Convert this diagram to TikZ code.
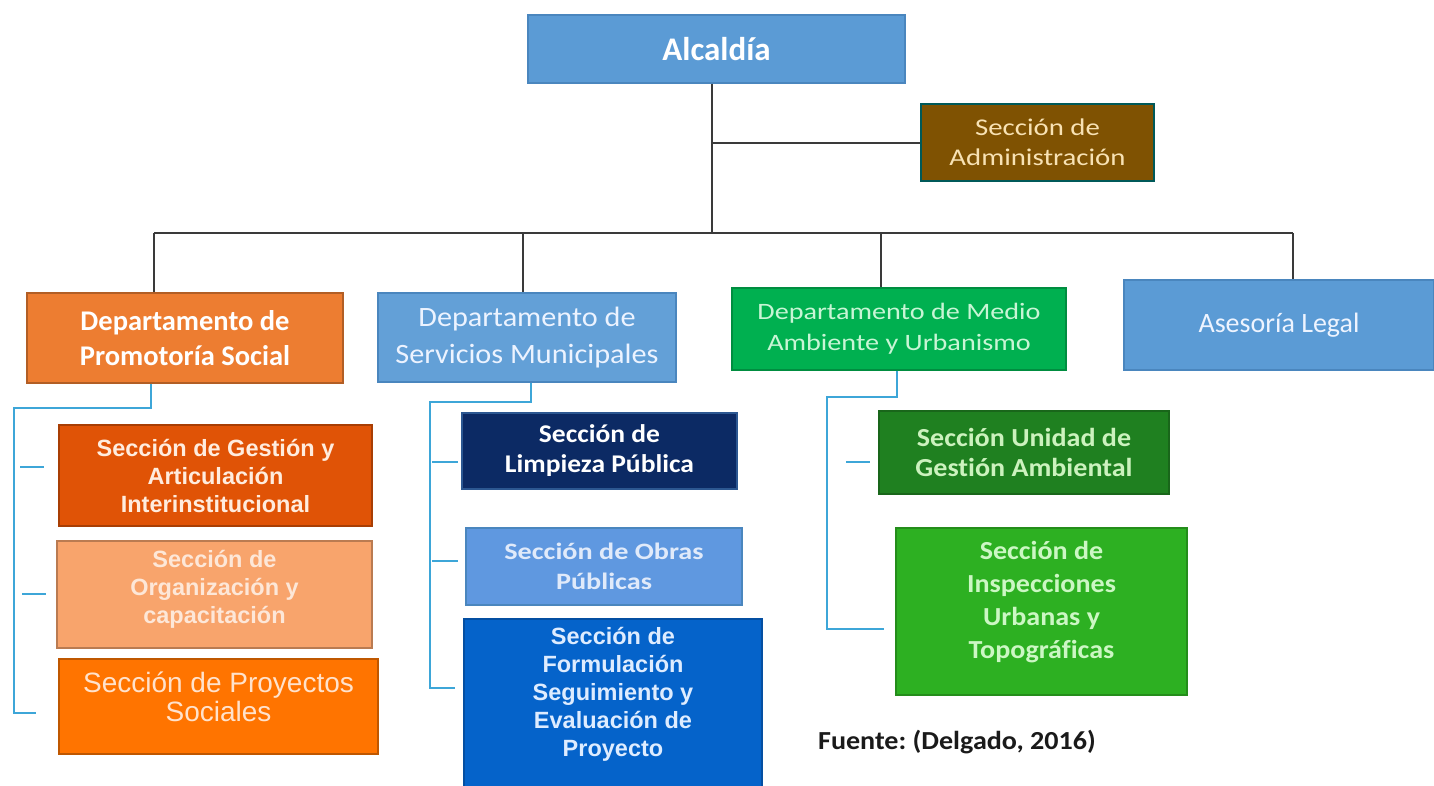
\documentclass[tikz,border=0pt]{standalone}
\usepackage{fontspec}
\setmainfont{Carlito}[Ligatures=NoCommon]
\newfontfamily\calN{Carlito}[Ligatures=NoCommon]
\newfontfamily\calS{Carlito}[FakeStretch=1.08,Ligatures=NoCommon]
\newfontfamily\calW{Carlito}[FakeStretch=1.2,Ligatures=NoCommon]
\newfontfamily\arl{Liberation Sans}
\usetikzlibrary{calc}
\frenchspacing
\definecolor{wirec}{HTML}{3A3A3A}
\definecolor{subc}{HTML}{3DA6D8}
\definecolor{blueA}{HTML}{5B9BD5}
\definecolor{blueAb}{HTML}{4A86BE}
\definecolor{brownA}{HTML}{7F5202}
\definecolor{orangeA}{HTML}{ED7D31}
\definecolor{greenA}{HTML}{00B050}
\definecolor{orangeB}{HTML}{E05306}
\definecolor{orangeC}{HTML}{F8A46C}
\definecolor{orangeD}{HTML}{FF7400}
\definecolor{navyA}{HTML}{0C2A64}
\definecolor{blueB}{HTML}{5F98E0}
\definecolor{blueC}{HTML}{0563CA}
\definecolor{greenB}{HTML}{1F8020}
\definecolor{greenC}{HTML}{2DB022}
\tikzset{
  box/.style={rectangle, draw, line width=1.2pt, inner sep=0pt, align=center},
  wire/.style={draw=wirec, line width=2pt},
  subw/.style={draw=subc, line width=1.8pt},
  lbl/.style={align=center}
}
\begin{document}
\begin{tikzpicture}[x=1pt,y=-1pt]
\useasboundingbox (0,0) rectangle (1434,785);
\fill[white] (0,0) rectangle (1434,785);

% top level
\node[box, fill=blueA, draw=blueAb, minimum width=377, minimum height=68,
  text=white, font=\calN\bfseries\fontsize{33}{38}\selectfont] (alc) at (716.5,49) {Alcaldía};
\node[box, fill=brownA, draw=teal!70!black, minimum width=233, minimum height=77,
  text={rgb,255:red,248;green,226;blue,180}, font=\calW\fontsize{24}{30}\selectfont] (adm) at (1037.5,142.5) {Sección de\\Administración};

% departments
\node[box, fill=orangeA, draw=orangeA!75!black, minimum width=316, minimum height=90,
  text=white, font=\calN\bfseries\fontsize{28.5}{35}\selectfont] (d1) at (185,338) {Departamento de\\Promotoría Social};
\node[box, fill=blueA!95!white, draw=blueAb, minimum width=298, minimum height=89,
  text={rgb,255:red,236;green,243;blue,255}, font=\calS\fontsize{28}{37}\selectfont] (d2) at (527,337.5) {Departamento de\\Servicios Municipales};
\node[box, fill=greenA, draw=greenA!80!black, minimum width=334, minimum height=82,
  text={rgb,255:red,200;green,245;blue,213}, font=\calW\fontsize{23.5}{31}\selectfont] (d3) at (899,329) {Departamento de Medio\\Ambiente y Urbanismo};
\node[box, fill=blueA, draw=blueAb, minimum width=310, minimum height=90,
  text={rgb,255:red,238;green,244;blue,255}, font=\calN\fontsize{28}{34}\selectfont] (d4) at (1279,325) {Asesoría Legal};

% sections left
\node[box, fill=orangeB, draw=orangeB!75!black, minimum width=313, minimum height=101,
  text={rgb,255:red,255;green,236;blue,222}, font=\arl\bfseries\fontsize{23.5}{28}\selectfont] (s1) at (215.5,475.5) {Sección de Gestión y\\Articulación\\Interinstitucional};
\node[box, fill=orangeC, draw=orangeC!75!black, minimum width=315, minimum height=107,
  label={[lbl, yshift=5.5pt, text={rgb,255:red,253;green,231;blue,216}, font=\arl\bfseries\fontsize{23.5}{28}\selectfont]center:Sección de\\Organización y\\capacitación}] (s2) at (214.5,594.5) {};
\node[box, fill=orangeD, draw=orangeD!75!black, minimum width=319, minimum height=95,
  label={[lbl, yshift=9.5pt, text={rgb,255:red,255;green,226;blue,204}, font=\arl\fontsize{28}{29.5}\selectfont]center:Sección de Proyectos\\Sociales}] (s3) at (218.5,706.5) {};

% sections middle
\node[box, fill=navyA, draw=navyA!60!blueA, minimum width=275, minimum height=76,
  text=white, font=\calS\bfseries\fontsize{25.5}{30}\selectfont] (m1) at (599.5,451) {Sección de\\Limpieza Pública};
\node[box, fill=blueB, draw=blueAb, minimum width=276, minimum height=77,
  text={rgb,255:red,224;green,234;blue,250}, font=\calW\bfseries\fontsize{23.5}{30}\selectfont] (m2) at (604,566.5) {Sección de Obras\\Públicas};
\node[box, fill=blueC, draw=blueC!80!black, minimum width=298, minimum height=171,
  label={[lbl, yshift=10pt, text={rgb,255:red,222;green,236;blue,255}, font=\arl\bfseries\fontsize{23.5}{28}\selectfont]center:Sección de\\Formulación\\Seguimiento y\\Evaluación de\\Proyecto}] (m3) at (613,704.5) {};

% sections right
\node[box, fill=greenB, draw=greenB!80!black, minimum width=290, minimum height=83,
  text={rgb,255:red,204;green,242;blue,190}, font=\calS\bfseries\fontsize{26}{30}\selectfont] (r1) at (1024,452.5) {Sección Unidad de\\Gestión Ambiental};
\node[box, fill=greenC, draw=greenC!80!black, minimum width=291, minimum height=167,
  label={[lbl, yshift=9pt, text={rgb,255:red,204;green,247;blue,196}, font=\calS\bfseries\fontsize{26}{33}\selectfont]center:Sección de\\Inspecciones\\Urbanas y\\Topográficas}] (r2) at (1041.5,611.5) {};

% source
\node[text={rgb,255:red,26;green,26;blue,26}, font=\calS\bfseries\fontsize{26}{30}\selectfont] (src) at (957,742) {Fuente: (Delgado, 2016)};

% top tree
\coordinate (j0) at (712,233);
\coordinate (ja) at (712,143);
\coordinate (b1) at (154,233);
\coordinate (b2) at (523,233);
\coordinate (b3) at (881,233);
\coordinate (b4) at (1293,233);
\draw[wire] (alc.south -| j0) -- (j0);
\draw[wire] (ja) -- (ja -| adm.west);
\draw[wire] (b1) -- (b4);
\draw[wire] (b1) -- (b1 |- d1.north);
\draw[wire] (b2) -- (b2 |- d2.north);
\draw[wire] (b3) -- (b3 |- d3.north);
\draw[wire] (b4) -- (b4 |- d4.north);

% left subtree
\coordinate (lp) at (151,408);
\coordinate (lc) at (14,408);
\coordinate (le) at (36,713);
\draw[subw] (lp |- d1.south) -- (lp) -- (lc) |- (le);
\coordinate (ls1a) at (20,467);
\coordinate (ls1b) at (44,467);
\coordinate (ls2a) at (22,594);
\coordinate (ls2b) at (46,594);
\draw[subw] (ls1a) -- (ls1b);
\draw[subw] (ls2a) -- (ls2b);

% middle subtree
\coordinate (mp) at (531,402);
\coordinate (mc) at (430,402);
\coordinate (me) at (455,688);
\draw[subw] (mp |- d2.south) -- (mp) -- (mc) |- (me);
\coordinate (ms1a) at (432,462);
\coordinate (ms1b) at (458,462);
\coordinate (ms2a) at (432,561);
\coordinate (ms2b) at (458,561);
\draw[subw] (ms1a) -- (ms1b);
\draw[subw] (ms2a) -- (ms2b);

% right subtree
\coordinate (rp) at (897,397);
\coordinate (rc) at (827,397);
\coordinate (re) at (884,629);
\draw[subw] (rp |- d3.south) -- (rp) -- (rc) |- (re);
\coordinate (rs1a) at (846,462);
\coordinate (rs1b) at (870,462);
\draw[subw] (rs1a) -- (rs1b);
\end{tikzpicture}
\end{document}
